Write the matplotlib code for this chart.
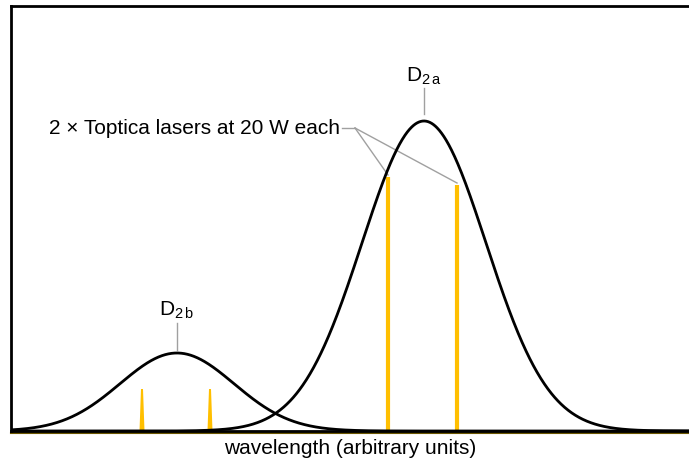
import numpy as np
import matplotlib.pyplot as plt

plt.rcParams['font.family'] = ['Liberation Sans', 'DejaVu Sans']
plt.rcParams['mathtext.fontset'] = 'custom'
plt.rcParams['mathtext.rm'] = 'Liberation Sans'

# absorption lines: centre, height, width (arbitrary units)
line_names = ['D2a', 'D2b']
line_centres = [413, 166]
line_heights = [310, 78]
line_widths = [62, 57]

# laser spikes: position, height
laser_pos = [131, 199, 377, 446]
laser_height = [42, 42, 254, 246]

fig = plt.figure(figsize=(6.89, 4.62), dpi=100)
ax = fig.add_axes([11/689, 31/462, 1 - 11/689, 425/462])
ax.set_xlim(0, 678)
ax.set_ylim(0, 425)

x = np.linspace(0, 678, 1500)
for c, h, w in zip(line_centres, line_heights, line_widths):
    ax.plot(x, h*np.exp(-(x - c)**2/(2*w**2)), color='black', lw=2, zorder=3)

for p, h in zip(laser_pos, laser_height):
    if h > 100:
        ax.vlines(p, 0, h, color='#ffbf00', lw=3, zorder=2)
    else:
        # small spikes are a bit wider at the foot
        ax.fill([p - 2.5, p - 1, p + 1, p + 2.5], [0, h, h, 0], color='#ffbf00', lw=0, zorder=2)

# leader lines and labels
gray = '#a0a0a0'
ax.plot([413, 413], [line_heights[0] + 7, line_heights[0] + 33], color=gray, lw=1)
ax.text(413, line_heights[0] + 45, r'D$_{\mathrm{2\,a}}$', ha='center', va='center', fontsize=15)
ax.plot([166, 166], [line_heights[1] + 3, line_heights[1] + 30], color=gray, lw=1)
ax.text(166, line_heights[1] + 43, r'D$_{\mathrm{2\,b}}$', ha='center', va='center', fontsize=15)

ty = 303
ax.plot([331, 344], [ty, ty], color=gray, lw=1)
ax.plot([344, laser_pos[2]], [ty, laser_height[2] + 2], color=gray, lw=1)
ax.plot([344, laser_pos[3]], [ty, laser_height[3] + 2], color=gray, lw=1)
ax.text(329, ty, '2 × Toptica lasers at 20 W each', ha='right', va='center', fontsize=15)

ax.axhline(-1.5, color='#6b5600', lw=1.5, zorder=1, clip_on=False)
ax.set_xticks([])
ax.set_yticks([])
ax.spines['right'].set_visible(False)
for s in ['top', 'left', 'bottom']:
    ax.spines[s].set_linewidth(2)
ax.set_xlabel('wavelength (arbitrary units)', fontsize=15, labelpad=6)

fig.savefig('out.png', dpi=100)
